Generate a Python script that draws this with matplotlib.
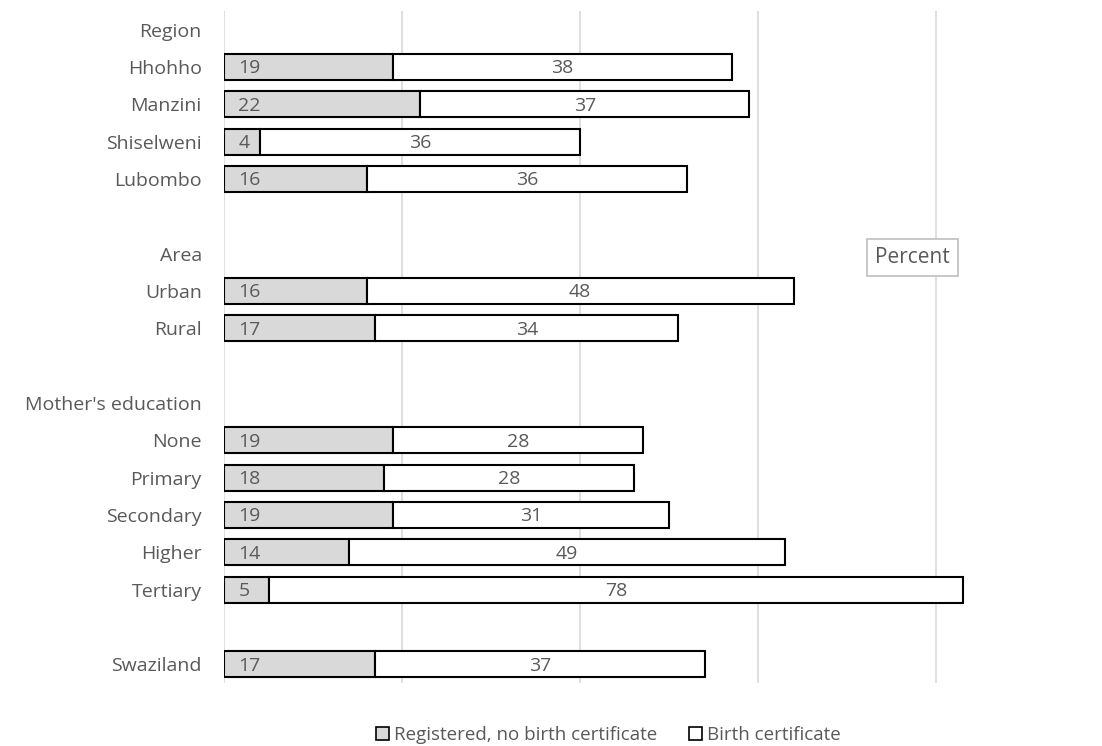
import numpy as np
import matplotlib.pyplot as plt

# rows top to bottom; None marks a header or spacer row with no bars
labels = ["Region", "Hhohho", "Manzini", "Shiselweni", "Lubombo", "",
          "Area", "Urban", "Rural", "",
          "Mother's education", "None", "Primary", "Secondary", "Higher", "Tertiary", "",
          "Swaziland"]
no_cert = [None, 19, 22, 4, 16, None,
           None, 16, 17, None,
           None, 19, 18, 19, 14, 5, None,
           17]
cert = [None, 38, 37, 36, 36, None,
        None, 48, 34, None,
        None, 28, 28, 31, 49, 78, None,
        37]

txt = '#595959'
fs = 14
plt.rcParams['font.family'] = ['Open Sans', 'DejaVu Sans']

fig = plt.figure(figsize=(11.02, 7.46), dpi=100)
ax = fig.add_axes([0.2033, 0.0845, 0.7677, 0.9008])

y = np.arange(len(labels))
for i, (a, b) in enumerate(zip(no_cert, cert)):
    if a is None:
        continue
    ax.barh(i, a, height=0.7, color='#d9d9d9', edgecolor='black', linewidth=1.5, zorder=3)
    ax.barh(i, b, left=a, height=0.7, color='white', edgecolor='black', linewidth=1.5, zorder=3)
    ax.text(1.6, i + 0.04, str(a), ha='left', va='center', fontsize=fs, color=txt, zorder=4)
    ax.text(a + b / 2, i + 0.04, str(b), ha='center', va='center', fontsize=fs, color=txt, zorder=4)

ax.set_ylim(len(labels) - 0.5, -0.5)
ax.set_xlim(0, 95)
ax.set_yticks(y)
ax.set_yticklabels(labels, fontsize=fs, color=txt)
ax.tick_params(axis='y', length=0, pad=16)
ax.set_xticks([0, 20, 40, 60, 80])
ax.tick_params(axis='x', length=0, labelbottom=False)
ax.grid(axis='x', color='#d9d9d9', linewidth=1.2, zorder=0)
for s in ax.spines.values():
    s.set_visible(False)

ax.text(77.3, 6.1, "Percent", ha='center', va='center', fontsize=fs + 1, color=txt,
        bbox=dict(boxstyle='square,pad=0.4', facecolor='white', edgecolor='#bfbfbf', linewidth=1.2),
        zorder=5)

h1 = plt.Rectangle((0, 0), 1, 1, facecolor='#d9d9d9', edgecolor='black', linewidth=1.2)
h2 = plt.Rectangle((0, 0), 1, 1, facecolor='white', edgecolor='black', linewidth=1.2)
fig.legend([h1, h2], ["Registered, no birth certificate", "Birth certificate"],
           loc='lower center', bbox_to_anchor=(0.552, -0.02), ncol=2, frameon=False,
           fontsize=13.5, labelcolor=txt, handlelength=0.7, handleheight=0.7,
           handletextpad=0.25, columnspacing=1.7)

fig.savefig('out.png', dpi=100)
